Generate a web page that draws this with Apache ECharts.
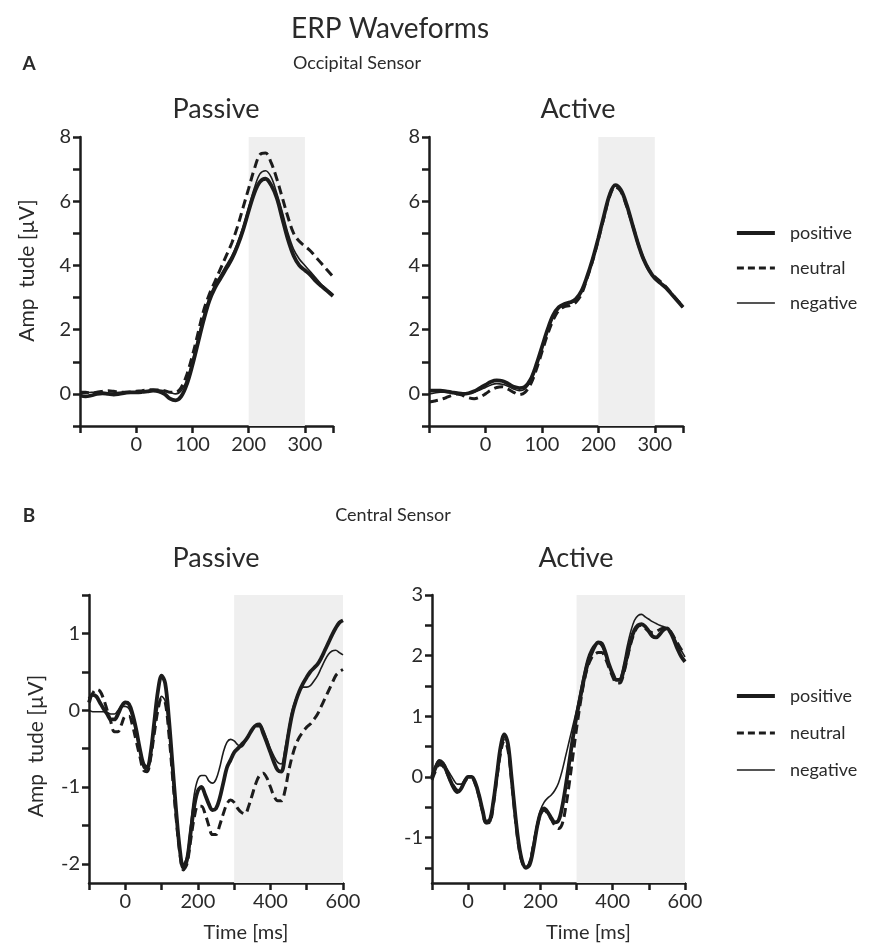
<!DOCTYPE html>
<html>
<head>
<meta charset="utf-8">
<script src="https://cdn.jsdelivr.net/npm/echarts@6/dist/echarts.min.js"></script>
<style>html,body{margin:0;padding:0;background:#fff}#c{width:870px;height:945px}</style>
</head>
<body>
<div id="c"></div>
<script>
// ---- DATA ----
const tA = [-100,-90,-80,-70,-60,-50,-40,-30,-20,-10,0,10,20,30,40,50,60,70,80,90,100,110,120,130,140,150,160,170,180,190,200,210,220,230,240,250,260,270,280,290,300,310,320,330,340,350];
const tB = [-100,-90,-80,-70,-60,-50,-40,-30,-20,-10,0,10,20,30,40,50,60,70,80,90,100,110,120,130,140,150,160,170,180,190,200,210,220,230,240,250,260,270,280,290,300,310,320,330,340,350,360,370,380,390,400,410,420,430,440,450,460,470,480,490,500,510,520,530,540,550,560,570,580,590,600];

// Occipital, passive
const occPassivePositive = [-0.05,-0.08,-0.05,0.0,0.02,0.0,-0.02,0.0,0.03,0.05,0.05,0.06,0.08,0.1,0.08,0.0,-0.15,-0.2,-0.08,0.3,0.9,1.6,2.3,2.9,3.3,3.6,3.9,4.2,4.6,5.1,5.7,6.25,6.6,6.7,6.5,6.1,5.45,4.8,4.3,4.0,3.85,3.7,3.5,3.35,3.2,3.05];
const occPassiveNeutral  = [0.05,0.05,0.03,0.05,0.08,0.1,0.08,0.05,0.05,0.06,0.08,0.1,0.12,0.13,0.12,0.1,0.05,0.05,0.2,0.6,1.2,1.9,2.6,3.1,3.5,3.9,4.3,4.7,5.2,5.8,6.4,7.0,7.45,7.5,7.2,6.7,6.1,5.5,5.0,4.75,4.6,4.45,4.25,4.05,3.85,3.65];
const occPassiveNegative = [0.0,0.02,0.05,0.05,0.03,0.02,0.03,0.05,0.05,0.05,0.06,0.08,0.1,0.12,0.12,0.1,0.05,0.0,0.1,0.45,1.05,1.75,2.45,3.0,3.4,3.7,4.0,4.3,4.7,5.2,5.8,6.4,6.85,6.95,6.75,6.25,5.65,5.0,4.5,4.2,4.0,3.8,3.6,3.4,3.25,3.1];
// Occipital, active
const occActivePositive = [0.1,0.1,0.1,0.08,0.05,0.02,0.0,0.02,0.08,0.18,0.28,0.38,0.42,0.4,0.32,0.22,0.18,0.22,0.45,0.9,1.45,2.0,2.45,2.7,2.8,2.85,2.95,3.2,3.65,4.2,4.85,5.55,6.2,6.5,6.35,5.9,5.3,4.7,4.2,3.85,3.6,3.45,3.3,3.1,2.9,2.7];
const occActiveNeutral  = [-0.25,-0.22,-0.18,-0.12,-0.05,0.0,-0.05,-0.12,-0.15,-0.1,0.0,0.12,0.2,0.22,0.15,0.05,-0.02,0.05,0.3,0.75,1.3,1.85,2.3,2.6,2.72,2.75,2.85,3.1,3.6,4.15,4.8,5.5,6.15,6.45,6.3,5.85,5.3,4.7,4.2,3.85,3.65,3.5,3.33,3.12,2.92,2.72];
const occActiveNegative = [0.0,0.03,0.05,0.05,0.03,0.02,0.02,0.02,0.05,0.12,0.2,0.28,0.32,0.3,0.24,0.15,0.1,0.15,0.4,0.85,1.4,1.95,2.4,2.65,2.78,2.82,2.92,3.18,3.62,4.18,4.82,5.52,6.18,6.48,6.33,5.88,5.28,4.68,4.2,3.85,3.62,3.47,3.3,3.1,2.9,2.7];
// Central, passive
const cenPassivePositive = [0.1,0.2,0.18,0.1,0.02,-0.05,-0.12,-0.12,-0.05,0.05,0.1,0.08,-0.05,-0.25,-0.5,-0.7,-0.75,-0.55,-0.15,0.25,0.45,0.35,-0.1,-0.7,-1.3,-1.8,-2.05,-1.95,-1.6,-1.25,-1.05,-1.0,-1.1,-1.22,-1.3,-1.28,-1.15,-0.95,-0.75,-0.65,-0.55,-0.5,-0.45,-0.4,-0.33,-0.25,-0.2,-0.2,-0.3,-0.42,-0.55,-0.68,-0.78,-0.8,-0.6,-0.3,-0.05,0.12,0.25,0.35,0.43,0.5,0.55,0.6,0.68,0.78,0.88,0.98,1.07,1.14,1.17];
const cenPassiveNeutral  = [0.15,0.22,0.27,0.25,0.15,0.0,-0.15,-0.28,-0.28,-0.18,-0.08,-0.08,-0.2,-0.4,-0.6,-0.78,-0.8,-0.62,-0.3,0.0,0.15,0.1,-0.3,-0.85,-1.4,-1.85,-2.08,-2.0,-1.7,-1.4,-1.25,-1.25,-1.35,-1.5,-1.62,-1.62,-1.5,-1.35,-1.22,-1.17,-1.2,-1.28,-1.33,-1.35,-1.25,-1.1,-0.95,-0.85,-0.82,-0.88,-1.0,-1.12,-1.18,-1.18,-1.05,-0.8,-0.6,-0.45,-0.35,-0.28,-0.22,-0.18,-0.12,-0.05,0.05,0.15,0.25,0.35,0.45,0.5,0.53];
const cenPassiveNegative = [0.0,-0.02,-0.02,-0.02,-0.02,-0.03,-0.05,-0.05,0.0,0.05,0.05,0.02,-0.1,-0.3,-0.55,-0.75,-0.78,-0.6,-0.25,0.05,0.18,0.12,-0.25,-0.8,-1.35,-1.8,-2.0,-1.9,-1.5,-1.1,-0.9,-0.85,-0.85,-0.92,-0.95,-0.9,-0.75,-0.55,-0.42,-0.38,-0.4,-0.45,-0.48,-0.42,-0.32,-0.25,-0.18,-0.17,-0.25,-0.37,-0.5,-0.6,-0.68,-0.7,-0.5,-0.25,0.0,0.15,0.25,0.3,0.3,0.32,0.38,0.45,0.55,0.65,0.73,0.77,0.78,0.75,0.72];
// Central, active
const cenActivePositive = [0.0,0.15,0.25,0.22,0.1,-0.05,-0.18,-0.25,-0.2,-0.08,0.0,0.0,-0.1,-0.3,-0.55,-0.75,-0.72,-0.4,0.05,0.5,0.7,0.55,0.0,-0.6,-1.1,-1.4,-1.5,-1.45,-1.2,-0.85,-0.6,-0.52,-0.58,-0.68,-0.75,-0.72,-0.5,-0.15,0.25,0.65,1.0,1.3,1.6,1.85,2.02,2.15,2.22,2.2,2.05,1.85,1.7,1.6,1.6,1.75,2.0,2.25,2.42,2.5,2.52,2.48,2.4,2.32,2.3,2.35,2.42,2.45,2.38,2.25,2.1,1.98,1.9];
const cenActiveNeutral  = [-0.05,0.1,0.2,0.18,0.08,-0.05,-0.15,-0.22,-0.18,-0.08,-0.02,-0.02,-0.12,-0.32,-0.58,-0.76,-0.75,-0.45,0.0,0.4,0.6,0.45,-0.05,-0.65,-1.15,-1.42,-1.5,-1.42,-1.15,-0.85,-0.62,-0.55,-0.6,-0.7,-0.8,-0.85,-0.78,-0.5,-0.1,0.35,0.8,1.2,1.55,1.8,1.95,2.02,2.05,2.05,1.95,1.8,1.65,1.55,1.55,1.7,1.95,2.2,2.38,2.48,2.5,2.45,2.4,2.38,2.4,2.43,2.45,2.45,2.4,2.3,2.2,2.1,2.05];
const cenActiveNegative = [0.05,0.2,0.28,0.25,0.15,0.05,-0.05,-0.12,-0.12,-0.05,0.0,0.0,-0.1,-0.3,-0.55,-0.72,-0.68,-0.35,0.1,0.5,0.68,0.5,-0.05,-0.65,-1.15,-1.42,-1.48,-1.4,-1.1,-0.8,-0.55,-0.42,-0.35,-0.3,-0.22,-0.1,0.1,0.35,0.6,0.85,1.1,1.4,1.7,1.95,2.1,2.18,2.2,2.15,2.0,1.82,1.68,1.6,1.62,1.85,2.15,2.4,2.58,2.66,2.68,2.64,2.6,2.56,2.53,2.5,2.48,2.45,2.4,2.3,2.18,2.08,1.98];

const bandA = [200, 300];
const bandB = [300, 600];
const yTicksA = [-1,0,1,2,3,4,5,6,7,8];
const yLabelsA = [0,2,4,6,8];
const xTicksA = [-100,0,100,200,300,350];
const xLabelsA = [0,100,200,300];
const yTicksBP = [-2,-1.5,-1,-0.5,0,0.5,1,1.5];
const yLabelsBP = [-2,-1,0,1];
const yTicksBA = [-1.5,-1,-0.5,0,0.5,1,1.5,2,2.5,3];
const yLabelsBA = [-1,0,1,2,3];
const xTicksB = [-100,0,100,200,300,400,500,600];
const xLabelsB = [0,200,400,600];
const seriesNames = ['positive','neutral','negative'];

// ---- CHART ----
const FONT = 'Lato, "Open Sans", sans-serif';
const INK = '#1c1c1c';
const TXT = '#2a2a2a';
const zip = (t, v) => t.map((x, i) => [x, v[i]]);

const lineStyles = {
  positive: {color: INK, width: 3.8},
  neutral: {color: INK, width: 3, type: [9, 5]},
  negative: {color: INK, width: 1.6}
};

const grids = [
  {left: 80, top: 137, width: 253, height: 289},
  {left: 429, top: 137, width: 254, height: 289},
  {left: 89, top: 595, width: 254, height: 288},
  {left: 432, top: 595, width: 253, height: 288}
];

function xAxisDef(gi, min, max, ticks, labels, name) {
  return {
    type: 'value', gridIndex: gi, min: min, max: max,
    axisLine: {onZero: false, lineStyle: {color: INK, width: 2.5}},
    axisTick: {customValues: ticks, length: 7, lineStyle: {color: INK, width: 2.5}},
    axisLabel: {customValues: labels, color: TXT, fontSize: 20, fontFamily: FONT, margin: 9},
    splitLine: {show: false},
    name: name || '', nameLocation: 'middle', nameGap: 40,
    nameTextStyle: {color: TXT, fontSize: 20, fontFamily: FONT, padding: [0, 0, 0, 60]}
  };
}
function yAxisDef(gi, min, max, ticks, labels, name, shift) {
  return {
    type: 'value', gridIndex: gi, min: min, max: max,
    axisLine: {onZero: false, lineStyle: {color: INK, width: 2.5}},
    axisTick: {customValues: ticks, length: 7, lineStyle: {color: INK, width: 2.5}},
    axisLabel: {customValues: labels, color: TXT, fontSize: 20, fontFamily: FONT, margin: 9},
    splitLine: {show: false},
    name: name || '', nameLocation: 'middle', nameGap: 42,
    nameTextStyle: {color: TXT, fontSize: 21, fontFamily: FONT, padding: shift || 0}
  };
}

function panelSeries(gi, t, pos, neu, neg, band) {
  return [
    {type: 'line', xAxisIndex: gi, yAxisIndex: gi, data: [], silent: true, z: 1,
     markArea: {silent: true, itemStyle: {color: '#efefef'}, data: [[{xAxis: band[0]}, {xAxis: band[1]}]]}},
    {name: 'neutral', type: 'line', xAxisIndex: gi, yAxisIndex: gi, data: zip(t, neu), smooth: 0.35,
     symbol: 'none', z: 3, lineStyle: lineStyles.neutral, itemStyle: {color: INK}},
    {name: 'negative', type: 'line', xAxisIndex: gi, yAxisIndex: gi, data: zip(t, neg), smooth: 0.35,
     symbol: 'none', z: 3, lineStyle: lineStyles.negative, itemStyle: {color: INK}},
    {name: 'positive', type: 'line', xAxisIndex: gi, yAxisIndex: gi, data: zip(t, pos), smooth: 0.35,
     symbol: 'none', z: 4, lineStyle: lineStyles.positive, itemStyle: {color: INK}}
  ];
}

function titleDef(text, x, top, size, weight) {
  return {text: text, left: x, top: top, textAlign: 'center',
          textStyle: {fontFamily: FONT, fontSize: size, fontWeight: weight || 'normal', color: TXT}};
}

function legendDef(top, gap) {
  return {
    data: seriesNames.map(n => ({name: n, lineStyle: Object.assign({}, lineStyles[n], n === 'neutral' ? {type: [7, 4]} : {})})),
    orient: 'vertical', left: 730, top: top,
    itemWidth: 38, itemHeight: 14, itemGap: gap,
    itemStyle: {opacity: 0, borderWidth: 0},
    textStyle: {fontFamily: FONT, fontSize: 18, color: TXT, padding: [0, 0, 0, 10]},
    selectedMode: false
  };
}

const chart = echarts.init(document.getElementById('c'), null, {renderer: 'canvas'});
chart.setOption({
  animation: false,
  backgroundColor: '#fff',
  title: [
    titleDef('ERP Waveforms', 385, 10, 28),
    titleDef('A', 24, 49, 19, 'bold'),
    titleDef('Occipital Sensor', 352, 49, 18),
    titleDef('Passive', 211, 91, 27),
    titleDef('Active', 573, 91, 27),
    titleDef('B', 24, 501, 19, 'bold'),
    titleDef('Central Sensor', 388, 501, 18),
    titleDef('Passive', 211, 540, 27),
    titleDef('Active', 571, 540, 27)
  ],
  legend: [legendDef(219, 17), legendDef(682, 19)],
  grid: grids,
  xAxis: [
    xAxisDef(0, -100, 350, xTicksA, xLabelsA),
    xAxisDef(1, -100, 350, xTicksA, xLabelsA),
    xAxisDef(2, -100, 600, xTicksB, xLabelsB, 'Time [ms]'),
    xAxisDef(3, -100, 600, xTicksB, xLabelsB, 'Time [ms]')
  ],
  yAxis: [
    yAxisDef(0, -1, 8, yTicksA, yLabelsA, 'Amp  tude [µV]', [0, 0, 0, 22]),
    yAxisDef(1, -1, 8, yTicksA, yLabelsA),
    yAxisDef(2, -2.25, 1.5, yTicksBP, yLabelsBP, 'Amp  tude [µV]', [0, 14, 0, 0]),
    yAxisDef(3, -1.75, 3, yTicksBA, yLabelsBA)
  ],
  series: [].concat(
    panelSeries(0, tA, occPassivePositive, occPassiveNeutral, occPassiveNegative, bandA),
    panelSeries(1, tA, occActivePositive, occActiveNeutral, occActiveNegative, bandA),
    panelSeries(2, tB, cenPassivePositive, cenPassiveNeutral, cenPassiveNegative, bandB),
    panelSeries(3, tB, cenActivePositive, cenActiveNeutral, cenActiveNegative, bandB)
  )
});
</script>
</body>
</html>
